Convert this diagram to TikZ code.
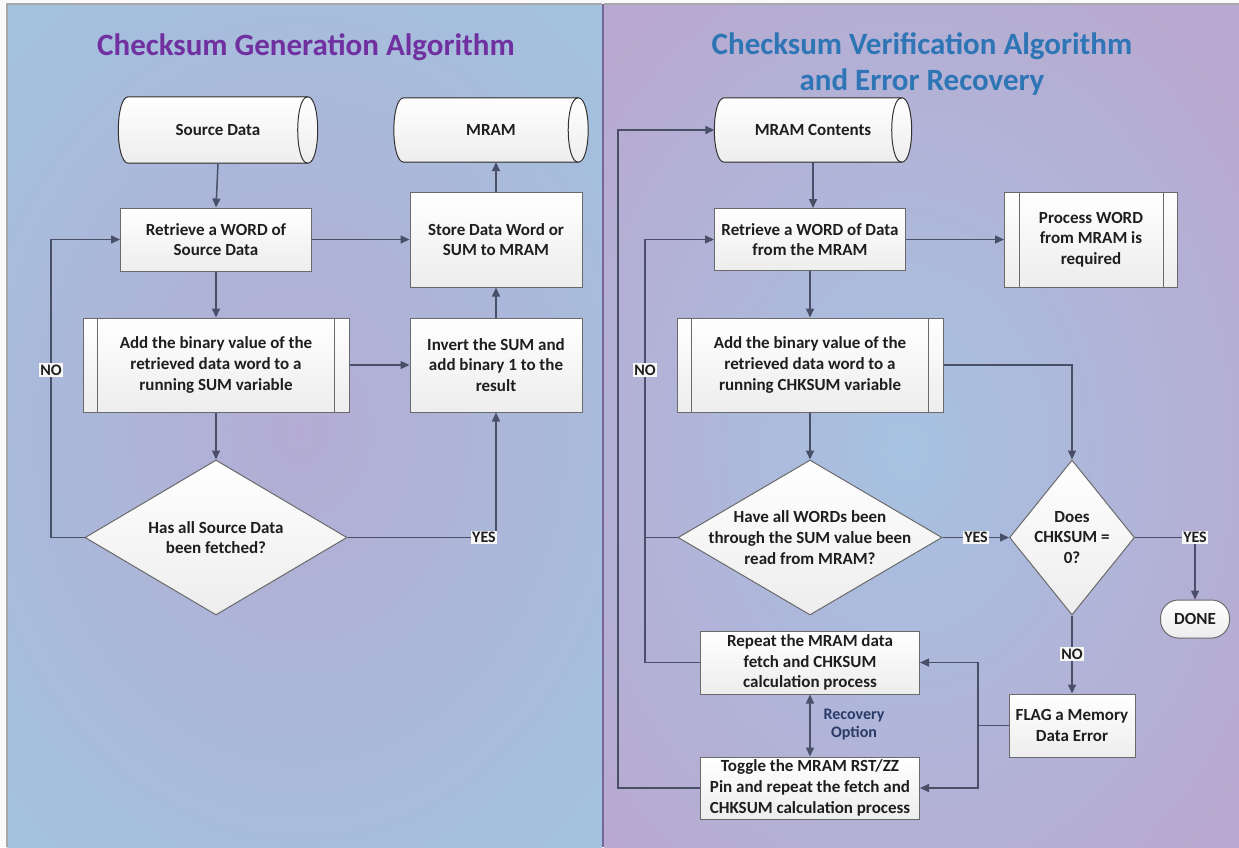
\documentclass[tikz,border=0pt]{standalone}
\usepackage{fontspec}
\setmainfont{Carlito}
\usetikzlibrary{arrows.meta,shapes.geometric,calc}
\definecolor{lineC}{HTML}{4A4F68}
\definecolor{boxB}{HTML}{6A6A6A}
\definecolor{boxBot}{HTML}{EDEDED}
\definecolor{txtC}{HTML}{1E1E1E}
\definecolor{lpEdge}{HTML}{A3C2DF}
\definecolor{lpMid}{HTML}{B4ACD4}
\definecolor{rpEdge}{HTML}{B9A9D0}
\definecolor{rpMid}{HTML}{A6C2E2}
\definecolor{ttlL}{HTML}{7030A0}
\definecolor{ttlR}{HTML}{2E75B6}
\definecolor{recC}{HTML}{2B3A67}
\definecolor{divC}{HTML}{76669C}
\definecolor{panelB}{HTML}{A8A8A8}
\newcommand{\bxfont}{\fontsize{17}{20.7}\selectfont\bfseries}
\newcommand{\lbfont}{\fontsize{16}{18}\selectfont\bfseries}
\newcommand{\ttfont}{\fontsize{31}{36}\selectfont\bfseries}
\newcommand{\drawcyl}[1]{%
  \filldraw[draw=black!80, line width=1pt, top color=white, bottom color=boxBot]
    ([xshift=10pt]#1.north west) -- ([xshift=-10pt]#1.north east)
    .. controls ([xshift=3.3pt]#1.north east) and ([xshift=3.3pt]#1.south east) .. ([xshift=-10pt]#1.south east)
    -- ([xshift=10pt]#1.south west)
    .. controls ([xshift=-3.3pt]#1.south west) and ([xshift=-3.3pt]#1.north west) .. ([xshift=10pt]#1.north west) -- cycle;
  \draw[black!80, line width=1pt] ([xshift=-10pt]#1.north east)
    .. controls ([xshift=-23.3pt]#1.north east) and ([xshift=-23.3pt]#1.south east) .. ([xshift=-10pt]#1.south east);
}
\begin{document}
\begin{tikzpicture}[x=1pt,y=-1pt,
  box/.style={draw=boxB, line width=1pt, top color=white, bottom color=boxBot, align=center, font=\bxfont, text=txtC, inner sep=0pt},
  cylnode/.style={align=center, font=\bxfont, text=txtC, inner sep=0pt},
  dia/.style={diamond, draw=boxB, line width=1pt, top color=white, bottom color=boxBot, inner sep=0pt},
  dtext/.style={align=center, font=\bxfont, text=txtC, inner sep=0pt},
  flow/.style={draw=lineC, line width=1.5pt, -{Triangle[length=9pt,width=8pt]}},
  both/.style={draw=lineC, line width=1.5pt, {Triangle[length=9pt,width=8pt]}-{Triangle[length=9pt,width=8pt]}},
  plain/.style={draw=lineC, line width=1.5pt},
  inner/.style={draw=boxB, line width=1pt},
  lbl/.style={fill=white!94!gray, font=\lbfont, text=txtC, inner sep=1.5pt},
  ttl/.style={align=center, font=\ttfont}
]
\useasboundingbox (0,0) rectangle (1239,847);
\fill[white!96!gray] (0,0) rectangle (1239,847);
% panels
\begin{scope}
  \clip (7,4) rectangle (602,847);
  \fill[lpEdge] (7,4) rectangle (602,847);
  \shade[inner color=lpMid, outer color=lpEdge] (-140,-120) rectangle (740,980);
\end{scope}
\draw[panelB, line width=1.5pt] (7,847) -- (7,4) -- (602,4);
\begin{scope}
  \clip (604,4) rectangle (1239,847);
  \fill[rpEdge] (604,4) rectangle (1239,847);
  \shade[inner color=rpMid, outer color=rpEdge] (480,-100) rectangle (1330,1000);
\end{scope}
\draw[panelB, line width=1.5pt] (604,4) -- (1239,4);
\draw[divC, line width=2.5pt] (603,4) -- (603,847);

% titles
\node[ttl, text=ttlL] (tl) at (306,47) {Checksum Generation Algorithm};
\node[ttl, text=ttlR] (tr) at (922,64) {Checksum Verification Algorithm\\and Error Recovery};

% ---------- left flow ----------
\node[cylnode, minimum width=199pt, minimum height=66pt] (src) at (218,130) {};
\drawcyl{src}
\node[cylnode] (srct) at (src.center) {Source Data};
\node[cylnode, minimum width=194pt, minimum height=64pt] (mram) at (491,130) {};
\drawcyl{mram}
\node[cylnode] (mramt) at (mram.center) {MRAM};

\node[box, minimum width=191pt, minimum height=63pt] (ret1) at (216,239.5) {Retrieve a WORD of\\Source Data};
\node[box, minimum width=172pt, minimum height=95pt] (store) at (496,239.5) {Store Data Word or\\SUM to MRAM};
\node[box, minimum width=266pt, minimum height=94pt] (add1) at (216,365) {Add the binary value of the\\retrieved data word to a\\running SUM variable};
\draw[inner] ([xshift=15pt]add1.north west) -- ([xshift=15pt]add1.south west);
\draw[inner] ([xshift=-15pt]add1.north east) -- ([xshift=-15pt]add1.south east);
\node[box, minimum width=172pt, minimum height=94pt] (inv) at (496,365) {Invert the SUM and\\add binary 1 to the\\result};
\node[dia, minimum width=262pt, minimum height=155pt] (dia1) at (216,537.5) {};
\node[dtext] (dia1t) at (dia1.center) {Has all Source Data\\been fetched?};

\coordinate (noL) at (51,370);
\draw[flow] (src.south) -- (ret1.north);
\draw[flow] (ret1.south) -- (add1.north);
\draw[flow] (add1.south) -- (dia1.north);
\draw[flow] (ret1.east) -- (store.west);
\draw[flow] (add1.east) -- (inv.west);
\draw[flow] (inv.north) -- (store.south);
\draw[flow] (store.north) -- (store.north |- mram.south);
\draw[flow] (dia1.west) -- (dia1.west -| noL) |- (ret1.west);
\draw[flow] (dia1.east) -| (inv.south);
\node[lbl] (noLl) at (noL) {NO};
\node[lbl] (yesL) at (484,537.5) {YES};

% ---------- right flow ----------
\node[cylnode, minimum width=197pt, minimum height=64pt] (mramc) at (813,130) {};
\drawcyl{mramc}
\node[cylnode] (mramct) at (mramc.center) {MRAM Contents};

\node[box, minimum width=191pt, minimum height=62pt] (ret2) at (810,239.5) {Retrieve a WORD of Data\\from the MRAM};
\node[box, minimum width=173pt, minimum height=95pt] (proc) at (1091,239.5) {Process WORD\\from MRAM is\\required};
\draw[inner] ([xshift=15pt]proc.north west) -- ([xshift=15pt]proc.south west);
\draw[inner] ([xshift=-15pt]proc.north east) -- ([xshift=-15pt]proc.south east);
\node[box, minimum width=266pt, minimum height=94pt] (add2) at (810,365) {Add the binary value of the\\retrieved data word to a\\running CHKSUM variable};
\draw[inner] ([xshift=15pt]add2.north west) -- ([xshift=15pt]add2.south west);
\draw[inner] ([xshift=-15pt]add2.north east) -- ([xshift=-15pt]add2.south east);
\node[dia, minimum width=264pt, minimum height=155pt] (dia2) at (810,537.5) {};
\node[dtext] (dia2t) at (dia2.center) {Have all WORDs been\\through the SUM value been\\read from MRAM?};
\node[dia, minimum width=125pt, minimum height=155pt] (dia3) at (1072,537.5) {};
\node[dtext] (dia3t) at (dia3.center) {Does\\CHKSUM =\\0?};
\node[box, rounded corners=18pt, minimum width=69pt, minimum height=38pt] (done) at (1195,619) {DONE};
\node[box, minimum width=126pt, minimum height=63pt] (flag) at (1072,725.5) {FLAG a Memory\\Data Error};
\node[box, minimum width=219pt, minimum height=63pt] (rep) at (810,662.5) {Repeat the MRAM data\\fetch and CHKSUM\\calculation process};
\node[box, minimum width=219pt, minimum height=62pt] (tog) at (810,788) {Toggle the MRAM RST/ZZ\\Pin and repeat the fetch and\\CHKSUM calculation process};

\coordinate (noR) at (645,370);
\coordinate (outR) at (618,460);
\coordinate (fj) at (978,725.5);
\draw[flow] (mramc.south) -- (mramc.south |- ret2.north);
\draw[flow] (ret2.east) -- (proc.west);
\draw[flow] (ret2.south) -- (add2.north);
\draw[flow] (add2.south) -- (dia2.north);
\draw[flow] (add2.east) -| (dia3.north);
\draw[flow] (dia2.east) -- (dia3.west);
\draw[flow] (dia3.east) -| (done.north);
\draw[flow] (dia3.south) -- (flag.north);
\draw[plain] (flag.west) -- (fj);
\draw[flow] (fj) |- (rep.east);
\draw[flow] (fj) |- (tog.east);
\draw[both] (rep.south) -- (tog.north);
\draw[flow] (rep.west) -- (rep.west -| noR) |- (ret2.west);
\draw[plain] (dia2.west) -- (dia2.west -| noR);
\draw[flow] (tog.west) -- (tog.west -| outR) |- (mramc.west);

\node[lbl] (noRl) at (noR) {NO};
\node[lbl] (yesR1) at (976,537.5) {YES};
\node[lbl] (yesR2) at (1195,537.5) {YES};
\node[lbl] (noR2) at (1072,654) {NO};
\node[align=center, font=\lbfont, text=recC] (rec) at (854,725) {Recovery\\Option};
\end{tikzpicture}
\end{document}
